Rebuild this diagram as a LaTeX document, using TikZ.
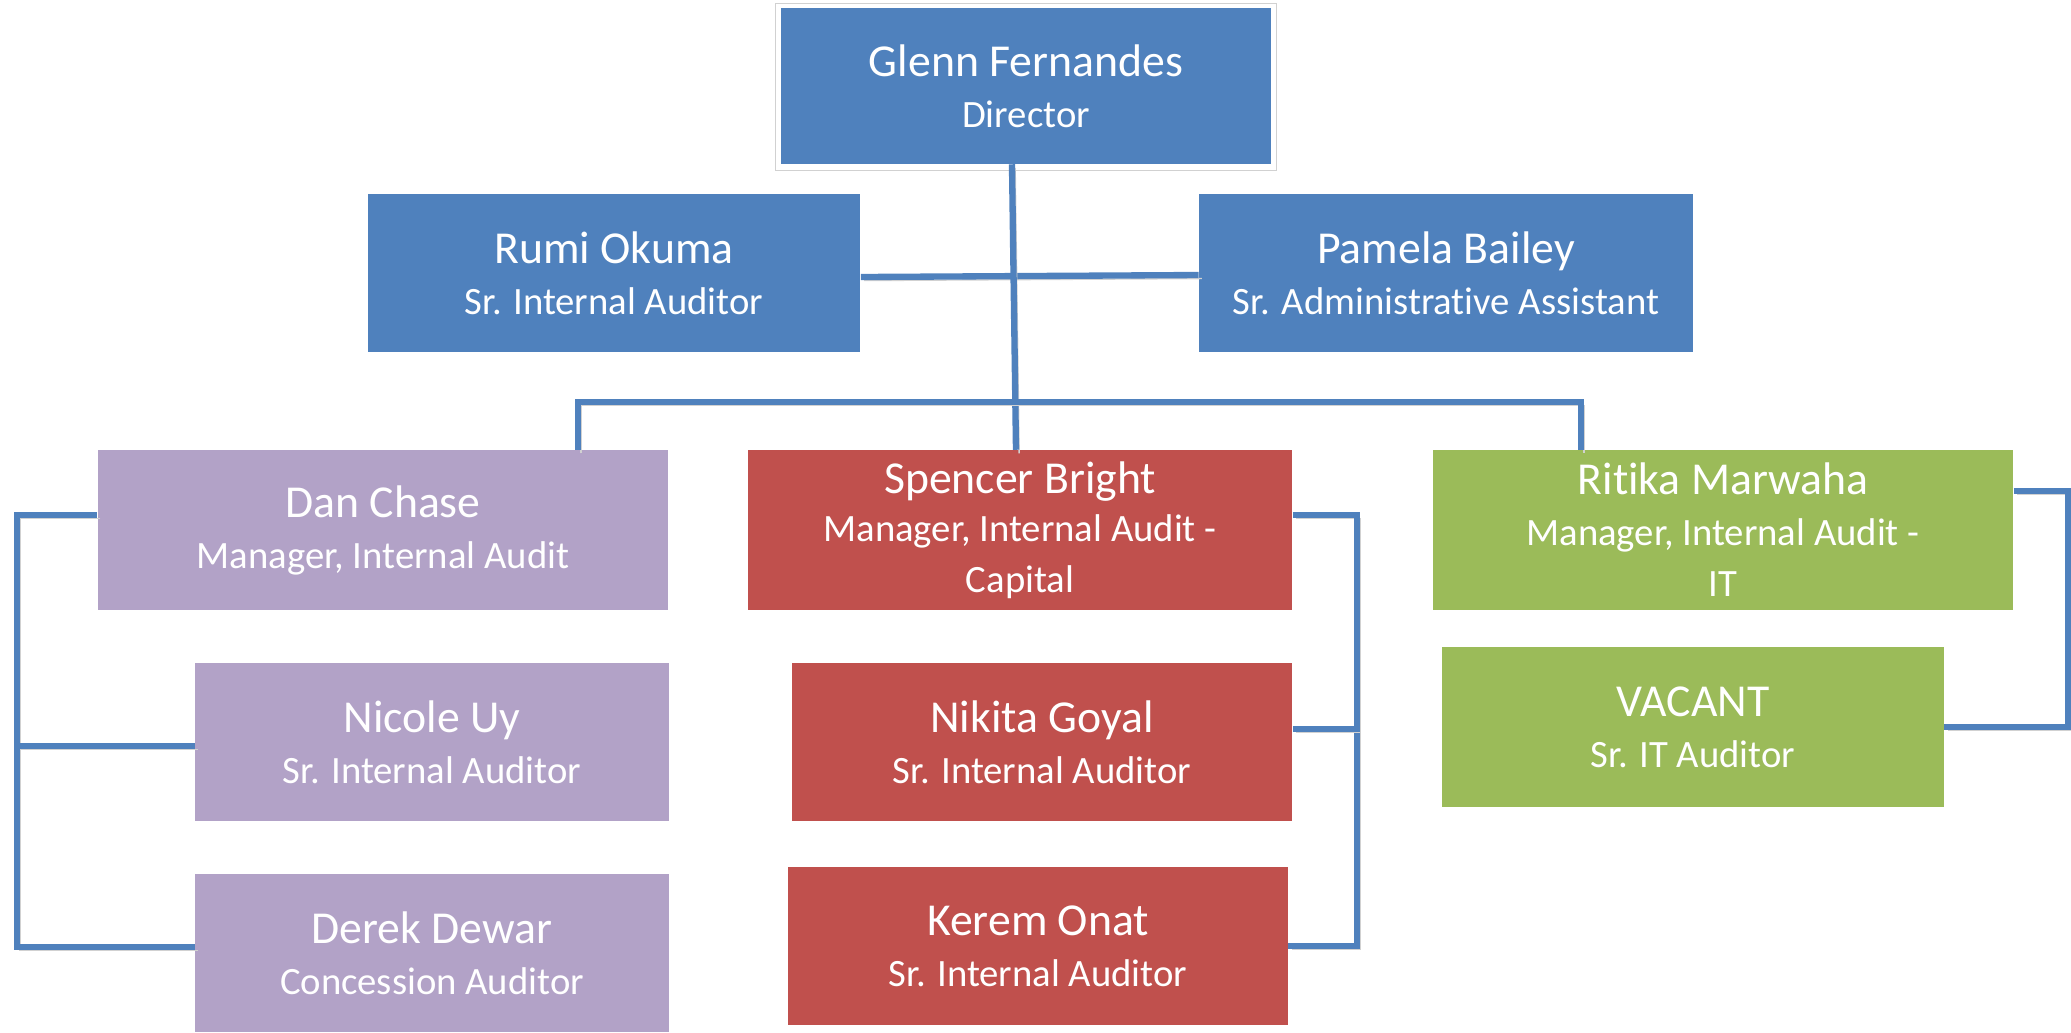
\documentclass[tikz,border=0pt]{standalone}
\usepackage{fontspec}
\setmainfont{Carlito}[Ligatures={CommonOff,ContextualOff}]
\usepackage{tikz}
\usetikzlibrary{shapes,arrows}
\definecolor{headblue}{HTML}{4F81BD}
\definecolor{linkblue}{HTML}{4F81BD}
\definecolor{chasepurple}{HTML}{B2A2C7}
\definecolor{brightred}{HTML}{C0504D}
\definecolor{itgreen}{HTML}{9BBB59}
\newcommand{\pname}[1]{{\fontsize{13}{14.5}\selectfont #1}}
\tikzstyle{block} = [rectangle, inner sep=0pt, text=white, align=center,
    font=\fontsize{11}{14.5}\selectfont, minimum height=1.57cm]
\tikzstyle{head} = [block, fill=headblue]
\tikzstyle{chase} = [block, fill=chasepurple]
\tikzstyle{bright} = [block, fill=brightred]
\tikzstyle{itbox} = [block, fill=itgreen]
\tikzstyle{frame} = [rectangle, draw=black!18, fill=white, line width=0.4pt]
\tikzstyle{link} = [draw=linkblue, line width=1.8pt,
    preaction={draw=black!18, transform canvas={shift={(0.9pt,-1pt)}}}]

\begin{document}
\begin{tikzpicture}[x=0.01cm, y=-0.01cm]
\useasboundingbox (0,0) rectangle (2071,1032);

% top
\node [frame, minimum width=5.01cm, minimum height=1.67cm] (dirframe) at (1026,87) {};
\node [head, minimum width=4.89cm, minimum height=1.55cm] (director) at (1026,86)
    {\pname{Glenn Fernandes}\\Director};
\node [head, minimum width=4.92cm] (rumi) at (614,273) {\pname{Rumi Okuma}\\Sr. Internal Auditor};
\node [head, minimum width=4.93cm] (pamela) at (1446,273) {\pname{Pamela Bailey}\\Sr. Administrative Assistant};

% managers
\node [chase, minimum width=5.70cm, minimum height=1.59cm] (dan) at (383,530) {\pname{Dan Chase}\\Manager, Internal Audit};
\node [bright, minimum width=5.44cm, minimum height=1.59cm] (spencer) at (1020,530)
    {\pname{Spencer Bright}\\[-1pt]Manager, Internal Audit -\\Capital};
\node [itbox, minimum width=5.80cm, minimum height=1.59cm] (ritika) at (1723,530)
    {\pname{Ritika Marwaha}\\Manager, Internal Audit -\\IT};

% staff
\node [chase, minimum width=4.73cm] (nicole) at (432,742) {\pname{Nicole Uy}\\Sr. Internal Auditor};
\node [chase, minimum width=4.73cm] (derek) at (432,953) {\pname{Derek Dewar}\\Concession Auditor};
\node [bright, minimum width=5.00cm] (nikita) at (1042,742) {\pname{Nikita Goyal}\\Sr. Internal Auditor};
\node [bright, minimum width=4.99cm] (kerem) at (1038,946) {\pname{Kerem Onat}\\Sr. Internal Auditor};
\node [itbox, minimum width=5.01cm, minimum height=1.59cm] (vacant) at (1693,727) {\pname{VACANT}\\Sr. IT Auditor};

\coordinate (busL) at (578,402);
\coordinate (busR) at (1581,402);
\coordinate (danrail) at (17,0);
\coordinate (spencerrail) at (1357,0);
\coordinate (ritikarail) at (2068,0);

\draw [link] ([yshift=-0.04cm]rumi.east) -- ([yshift=-0.02cm]pamela.west);
\draw [link] ([xshift=-0.14cm]director.south) -- ([xshift=-0.04cm]spencer.north);
\draw [link] (busL |- dan.north) -- (busL) -- (busR) -- (busR |- ritika.north);
\draw [link] ([yshift=0.15cm]dan.west) -| ([yshift=0.06cm]danrail |- derek.west) -- ([yshift=0.06cm]derek.west);
\draw [link] ([yshift=-0.04cm]nicole.west) -- ([yshift=-0.04cm]danrail |- nicole.west);
\draw [link] ([yshift=0.15cm]spencer.east) -| (spencerrail |- kerem.east) -- (kerem.east);
\draw [link] ([yshift=0.13cm]nikita.east) -- ([yshift=0.13cm]spencerrail |- nikita.east);
\draw [link] ([yshift=0.39cm]ritika.east) -| (ritikarail |- vacant.east) -- (vacant.east);

\end{tikzpicture}
\end{document}
